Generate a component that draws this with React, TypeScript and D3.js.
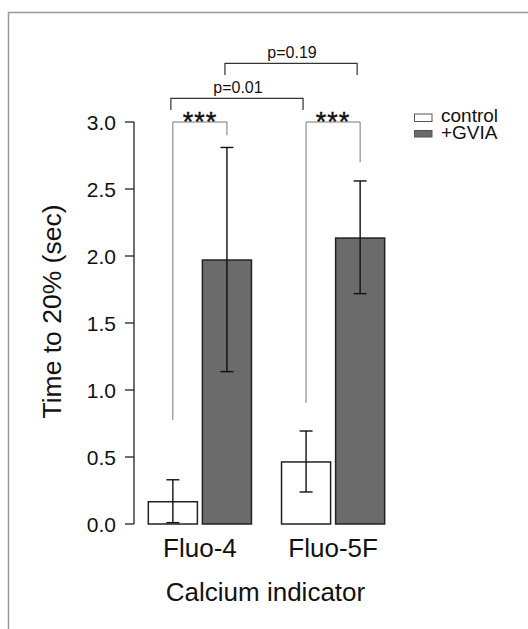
import React from 'react'
import * as d3 from 'd3'

const indicators = ['Fluo-4', 'Fluo-5F']
const groups = ['control', '+GVIA']
const means = [[0.166, 1.97], [0.463, 2.134]]
const errLow = [[0.01, 1.137], [0.239, 1.719]]
const errHigh = [[0.33, 2.81], [0.694, 2.56]]
const yTicks = [0, 0.5, 1.0, 1.5, 2.0, 2.5, 3.0]
// *** brackets: leg bottoms for control / GVIA
const starLegs = [[0.776, 2.9], [0.905, 2.7]]
const pLabels = ['p=0.01', 'p=0.19']

const FONT = 'Arial, "Liberation Sans", sans-serif'

export default function App () {
  const width = 528
  const height = 629
  const yScale = d3.scaleLinear().domain([0, 3]).range([524, 122])
  const xScale = d3.scaleBand<string>()
    .domain(indicators)
    .range([133.3, 399.7])
    .paddingInner(0.2256)
    .paddingOuter(0.1128)
  const subScale = d3.scaleBand<string>()
    .domain(groups)
    .range([0, xScale.bandwidth()])
    .paddingInner(0.0926)
  const fills = ['#ffffff', '#6b6b6b']
  const bw = subScale.bandwidth()
  const cx = (i: number, j: number) => (xScale(indicators[i]) as number) + (subScale(groups[j]) as number) + bw / 2
  const axisX = 134
  const bracketColor = '#777'

  return <svg width={width} height={height} style={{ position: 'absolute', left: 0, top: 0 }} fontFamily={FONT}>
    <rect x={0} y={0} width={width} height={height} fill='#fff' />
    <rect x={8.5} y={12.5} width={620} height={700} fill='none' stroke='#999' strokeWidth={1.5} />

    {/* y axis */}
    <g>
      <line x1={axisX} x2={axisX} y1={yScale(0)} y2={yScale(3)} stroke='#222' strokeWidth={1.3} />
      {yTicks.map((v, i) => <g key={i} transform={`translate(${axisX},${yScale(v)})`}>
        <line x1={0} x2={-9} y1={0} y2={0} stroke='#222' strokeWidth={1.3} />
        <text x={-18} dy='0.36em' textAnchor='end' fontSize={21} fill='#111'>{v.toFixed(1)}</text>
      </g>)}
      <text transform='translate(61,311.5) rotate(-90)' textAnchor='middle' fontSize={26.5} fill='#111'>Time to 20% (sec)</text>
    </g>

    {/* bars */}
    {indicators.map((ind, i) => <g key={ind}>
      {groups.map((g, j) => {
        const x0 = (xScale(ind) as number) + (subScale(g) as number)
        return <rect key={g} x={x0} y={yScale(means[i][j])} width={bw} height={yScale(0) - yScale(means[i][j])}
          fill={fills[j]} stroke='#222' strokeWidth={1.5} />
      })}
      {groups.map((g, j) => {
        const c = cx(i, j)
        return <g key={'e' + g} stroke='#111' strokeWidth={1.4}>
          <line x1={c} x2={c} y1={yScale(errLow[i][j])} y2={yScale(errHigh[i][j])} />
          <line x1={c - 6.5} x2={c + 6.5} y1={yScale(errLow[i][j])} y2={yScale(errLow[i][j])} />
          <line x1={c - 6.5} x2={c + 6.5} y1={yScale(errHigh[i][j])} y2={yScale(errHigh[i][j])} />
        </g>
      })}
      <text x={(xScale(ind) as number) + xScale.bandwidth() / 2} y={556.7} textAnchor='middle' fontSize={26} fill='#111'>{ind}</text>
    </g>)}

    {/* *** brackets */}
    {indicators.map((ind, i) => {
      const a = cx(i, 0)
      const b = cx(i, 1)
      const top = yScale(3)
      return <g key={'s' + ind}>
        <path d={`M${a},${yScale(starLegs[i][0])}V${top}H${b}V${yScale(starLegs[i][1])}`} fill='none' stroke={bracketColor} strokeWidth={1} />
        <text x={(a + b) / 2} y={130.5} textAnchor='middle' fontSize={27} letterSpacing={1} fill='#111' stroke='#111' strokeWidth={0.4}>***</text>
      </g>
    })}

    {/* p value brackets */}
    {[0, 1].map(j => {
      const a = cx(0, j) - 2
      const b = cx(1, j) - 3
      const h = j === 0 ? 3.177 : 3.438
      const leg = j === 0 ? 3.09 : 3.35
      return <g key={'p' + j}>
        <path d={`M${a},${yScale(leg)}V${yScale(h)}H${b}V${yScale(leg)}`} fill='none' stroke='#333' strokeWidth={1.2} />
        <text x={(a + b) / 2 + 1} y={yScale(h) - 5.6} textAnchor='middle' fontSize={16} fill='#111'>{pLabels[j]}</text>
      </g>
    })}

    {/* legend */}
    <g>
      {groups.map((g, j) => <g key={'l' + g}>
        <rect x={414.5} y={j === 0 ? 114 : 130.5} width={17.5} height={j === 0 ? 7.5 : 6.5} fill={fills[j]} stroke='#555' strokeWidth={1} />
        <text x={441} y={j === 0 ? 122 : 138.5} fontSize={19} fill='#111'>{g}</text>
      </g>)}
    </g>

    <text x={265.5} y={600.5} textAnchor='middle' fontSize={26} fill='#111'>Calcium indicator</text>
  </svg>
}
